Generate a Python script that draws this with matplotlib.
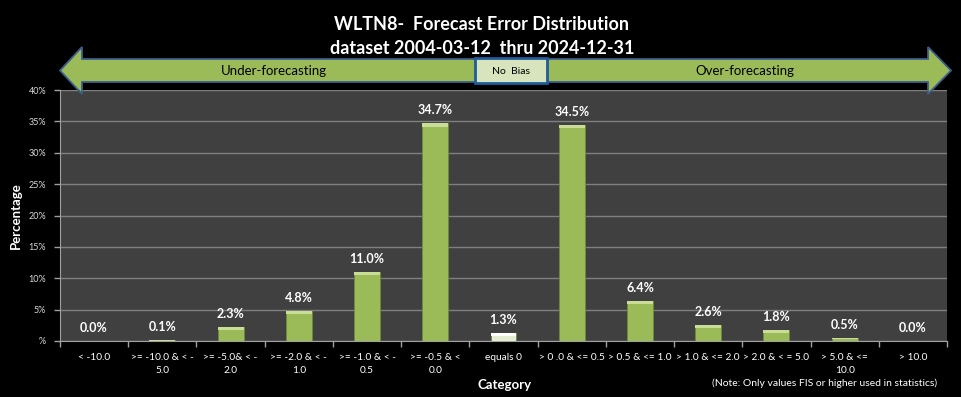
import matplotlib
matplotlib.use("Agg")
import matplotlib.pyplot as plt
from matplotlib.patches import Polygon, Rectangle
import numpy as np

plt.rcParams['font.family'] = ['Lato', 'DejaVu Sans']

categories = ["< -10.0", ">= -10.0 & < -\n5.0", ">= -5.0& < -\n2.0", ">= -2.0 & < -\n1.0",
              ">= -1.0 & < -\n0.5", ">= -0.5 & <\n0.0", "equals 0", "> 0 .0 & <= 0.5",
              "> 0.5 & <= 1.0", "> 1.0 & <= 2.0", "> 2.0 & < = 5.0", "> 5.0 & <=\n10.0", "> 10.0"]
values = [0.0, 0.1, 2.3, 4.8, 11.0, 34.7, 1.3, 34.5, 6.4, 2.6, 1.8, 0.5, 0.0]
labels = ["0.0%", "0.1%", "2.3%", "4.8%", "11.0%", "34.7%", "1.3%", "34.5%", "6.4%", "2.6%", "1.8%", "0.5%", "0.0%"]
yticks = [0, 5, 10, 15, 20, 25, 30, 35, 40]
yticklabels = ["%", "5%", "10%", "15%", "20%", "25%", "30%", "35%", "40%"]
title = "WLTN8-  Forecast Error Distribution\ndataset 2004-03-12  thru 2024-12-31"

W, H = 961, 397
fig = plt.figure(figsize=(W / 100, H / 100), dpi=100, facecolor="black")

def fx(px):
    return px / W

def fy(py):
    return 1 - py / H

ax = fig.add_axes([fx(60), fy(341), fx(947) - fx(60), fy(90) - fy(341)])
ax.set_facecolor("#404040")

x = np.arange(len(categories))
green = "#9BBB59"
colors = [green] * len(values)
colors[6] = "#E4ECD2"
bars = ax.bar(x, values, width=0.38, color=colors, edgecolor="#6E8A3A", linewidth=0.6, zorder=3)
# bevel highlight on top of each bar
for b, c in zip(bars, colors):
    h = b.get_height()
    if h <= 0:
        continue
    cap = min(0.55, h * 0.35)
    hl = "#C9DD96" if c == green else "#FFFFFF"
    ax.add_patch(Rectangle((b.get_x(), h - cap), b.get_width(), cap, facecolor=hl,
                           edgecolor="none", zorder=4))

for xi, v, lab in zip(x, values, labels):
    ax.annotate(lab, (xi, v), xytext=(0, 5), textcoords="offset points", ha="center",
                va="bottom", color="white", fontsize=9, fontweight="bold")

ax.set_xlim(-0.5, len(categories) - 0.5)
ax.set_ylim(0, 40)
ax.set_yticks(yticks)
ax.set_yticklabels(yticklabels, fontsize=6.5, color="#D9D9D9")
ax.yaxis.grid(True, color="#7F7F7F", linewidth=1.0, zorder=0)
ax.set_axisbelow(True)
ax.set_xticks(x)
ax.set_xticklabels(categories, fontsize=7.3, color="white", linespacing=1.45)
ax.tick_params(axis="x", which="major", length=0, pad=9)
ax.set_xticks(np.arange(-0.5, len(categories), 1.0), minor=True)
ax.tick_params(axis="x", which="minor", length=4, color="#A0A0A0", width=1)
ax.tick_params(axis="y", length=4, color="#A0A0A0", width=1, pad=6)
for s in ["top", "right"]:
    ax.spines[s].set_visible(False)
ax.spines["left"].set_color("#A0A0A0")
ax.spines["bottom"].set_color("#A0A0A0")

fig.text(fx(16), (fy(341) + fy(90)) / 2, "Percentage", color="white", fontsize=9.5,
         fontweight="bold", rotation=90, ha="center", va="center")
fig.text(fx(505), fy(385), "Category", color="white", fontsize=9.5, fontweight="bold",
         ha="center", va="center")
fig.text(fx(937), fy(383), "(Note: Only values FIS or higher used in statistics)", color="white",
         fontsize=7.5, ha="right", va="center")
fig.text(fx(482), fy(36.5), title, color="white", fontsize=13, fontweight="bold",
         ha="center", va="center", linespacing=1.55)

# double-headed arrow
pts = [(60, 70.5), (82, 47), (82, 59), (928, 59), (928, 47), (951, 70.5),
       (928, 94), (928, 82), (82, 82), (82, 94)]
poly = Polygon([(fx(a), fy(b)) for a, b in pts], closed=True, transform=fig.transFigure,
               facecolor=green, edgecolor="#3B5E8C", linewidth=1.3, zorder=5)
fig.add_artist(poly)
box = Rectangle((fx(475), fy(83)), fx(547) - fx(475), fy(58) - fy(83), transform=fig.transFigure,
                facecolor="#D7E4BD", edgecolor="#1F5C99", linewidth=2, zorder=6)
fig.add_artist(box)
fig.text(fx(511), fy(71), "No  Bias", color="black", fontsize=7.5, ha="center", va="center", zorder=7)
fig.text(fx(274), fy(71), "Under-forecasting", color="black", fontsize=9.5, ha="center", va="center", zorder=7)
fig.text(fx(745), fy(71), "Over-forecasting", color="black", fontsize=9.5, ha="center", va="center", zorder=7)

fig.savefig("out.png", dpi=100, facecolor="black")
